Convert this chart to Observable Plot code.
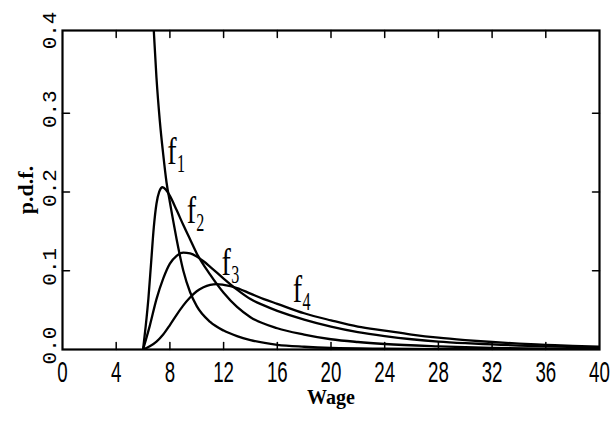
<!DOCTYPE html>
<html>
<head>
<meta charset="utf-8">
<script src="https://cdn.jsdelivr.net/npm/d3@7"></script>
<script src="https://cdn.jsdelivr.net/npm/@observablehq/plot@0.6"></script>
<style>
html, body { margin: 0; padding: 0; background: #fff; }
#chart svg { display: block; }
</style>
</head>
<body>
<div id="chart"></div>
<script>
// ---- tick values and labels ----
const xTicks = [0, 4, 8, 12, 16, 20, 24, 28, 32, 36, 40];
const xInnerTicks = [4, 8, 12, 16, 20, 24, 28, 32, 36];
const yTicks = [0, 0.1, 0.2, 0.3, 0.4];
const yTickLabels = ["0.0", "0.1", "0.2", "0.3", "0.4"];
const yInnerTicks = [0.1, 0.2, 0.3];
const xTitle = "Wage";
const yTitle = "p.d.f.";

// ---- series ----
const f1X = [6.72, 6.8, 7.0, 7.25, 7.5, 7.75, 8.0, 8.25, 8.5, 9.0, 9.5, 10, 11, 12, 13, 14, 16, 18, 20, 24, 28, 32, 36, 40];
const f1Y = [0.43, 0.405, 0.345, 0.29, 0.248, 0.212, 0.187, 0.163, 0.14, 0.1, 0.073, 0.055, 0.035, 0.024, 0.017, 0.012, 0.006, 0.0035, 0.002, 0.001, 0.0005, 0.0003, 0.0002, 0.0001];

const f2X = [6, 6.2, 6.4, 6.6, 6.8, 7.0, 7.2, 7.45, 7.7, 8.0, 8.5, 9, 9.5, 10, 11, 12, 13, 14, 16, 18, 20, 22, 24, 28, 32, 36, 40];
const f2Y = [0, 0.03, 0.065, 0.11, 0.155, 0.185, 0.2, 0.206, 0.203, 0.195, 0.177, 0.158, 0.14, 0.122, 0.095, 0.072, 0.054, 0.041, 0.027, 0.019, 0.013, 0.0095, 0.007, 0.004, 0.002, 0.001, 0.0005];

const f3X = [6, 6.5, 7, 7.5, 8, 8.5, 9, 9.5, 10, 10.5, 11, 12, 13, 14, 15, 16, 18, 20, 22, 24, 26, 28, 30, 32, 34, 36, 38, 40];
const f3Y = [0, 0.03, 0.064, 0.09, 0.109, 0.119, 0.123, 0.122, 0.118, 0.112, 0.105, 0.09, 0.076, 0.064, 0.056, 0.049, 0.038, 0.029, 0.022, 0.017, 0.013, 0.010, 0.008, 0.0065, 0.005, 0.004, 0.0033, 0.0027];

const f4X = [6, 6.5, 7, 7.5, 8, 8.5, 9, 9.5, 10, 10.5, 11, 11.5, 12, 13, 14, 15, 16, 18, 20, 22, 24, 26, 28, 30, 32, 34, 36, 38, 40];
const f4Y = [0, 0.004, 0.01, 0.019, 0.031, 0.044, 0.056, 0.066, 0.074, 0.079, 0.082, 0.083, 0.082, 0.078, 0.071, 0.064, 0.058, 0.046, 0.037, 0.029, 0.024, 0.019, 0.015, 0.012, 0.0095, 0.0075, 0.006, 0.0045, 0.0035];

// ---- curve labels (letter + subscript), anchored in data units ----
const labelNames = ["1", "2", "3", "4"];
const labelX = [8.15, 9.6, 12.2, 17.5];
const labelY = [0.251, 0.176, 0.11, 0.076];

// ---- build tables ----
const series = [
  {name: "f1", xs: f1X, ys: f1Y},
  {name: "f2", xs: f2X, ys: f2Y},
  {name: "f3", xs: f3X, ys: f3Y},
  {name: "f4", xs: f4X, ys: f4Y}
];
const rows = series.flatMap(s => s.xs.map((x, i) => ({series: s.name, x, y: s.ys[i]})));
const labels = labelNames.map((n, i) => ({n, x: labelX[i], y: labelY[i]}));
const yTickRows = yTicks.map((v, i) => ({v, t: yTickLabels[i]}));

const tickShape = {draw(context, l) { context.moveTo(0, 0); context.lineTo(0, -l); }};
const tickOpts = {length: 7, anchor: "start", shape: tickShape, stroke: "black", strokeWidth: 1.5};
const serif = "'Liberation Serif', 'DejaVu Serif', serif";

const FS_XTICK = 26, FS_LETTER = 33, FS_SUB = 23;

const chart = Plot.plot({
  width: 611,
  height: 439,
  marginLeft: 62,
  marginRight: 12,
  marginTop: 30,
  marginBottom: 90,
  style: {background: "#fff", color: "black"},
  x: {domain: [0, 40], axis: null},
  y: {domain: [0, 0.405], axis: null},
  marks: [
    Plot.line(rows, {x: "x", y: "y", z: "series", stroke: "black", strokeWidth: 2.3, curve: "monotone-x", clip: true}),
    Plot.frame({stroke: "black", strokeWidth: 2.2}),
    // inward ticks on all four sides
    Plot.vector(xInnerTicks, {x: d => d, frameAnchor: "bottom", rotate: 0, ...tickOpts}),
    Plot.vector(xInnerTicks, {x: d => d, frameAnchor: "top", rotate: 180, ...tickOpts}),
    Plot.vector(yInnerTicks, {y: d => d, frameAnchor: "left", rotate: 90, ...tickOpts}),
    Plot.vector(yInnerTicks, {y: d => d, frameAnchor: "right", rotate: -90, ...tickOpts}),
    // tick labels
    Plot.text(xTicks, {x: d => d, frameAnchor: "bottom", lineAnchor: "middle", textAnchor: "middle", dy: 23,
      text: d => String(d), fontSize: FS_XTICK, fontFamily: "'Liberation Sans', sans-serif", fill: "black"}),
    Plot.text(yTickRows, {y: "v", frameAnchor: "left", textAnchor: "middle", lineAnchor: "middle", dx: -13, dy: -4,
      rotate: -90, text: "t", fontSize: 21, fontFamily: "'Liberation Mono', 'DejaVu Sans Mono', monospace", fill: "black"}),
    // axis titles
    Plot.text([xTitle], {frameAnchor: "bottom", lineAnchor: "middle", textAnchor: "middle", dy: 48, text: d => d,
      fontSize: 20, fontWeight: "bold", fontFamily: serif, fill: "black"}),
    Plot.text([yTitle], {frameAnchor: "left", lineAnchor: "middle", textAnchor: "middle", dx: -37, rotate: -90,
      text: d => d, fontSize: 22, fontWeight: "bold", fontFamily: serif, fill: "black"}),
    // curve labels
    Plot.text(labels, {x: "x", y: "y", text: () => "f", fontSize: FS_LETTER,
      fontFamily: serif, fill: "black"}),
    Plot.text(labels, {x: "x", y: "y", text: "n", dx: 9, dy: 12, fontSize: FS_SUB,
      fontFamily: serif, fill: "black"})
  ]
});

// narrow, tall glyphs like the reference's typeface
function squeeze(fs, sx, sy) {
  d3.select(chart).selectAll("g").filter(function() {
    const v = this.getAttribute("font-size");
    return v != null && parseFloat(v) === fs;
  }).selectAll("text").each(function() {
    const t = this.getAttribute("transform") || "";
    this.setAttribute("transform", `${t} scale(${sx},${sy})`);
  });
}
squeeze(FS_XTICK, 0.72, 1.12);
squeeze(FS_LETTER, 0.85, 1.15);
squeeze(FS_SUB, 0.7, 1.1);

document.getElementById("chart").appendChild(chart);
</script>
</body>
</html>
